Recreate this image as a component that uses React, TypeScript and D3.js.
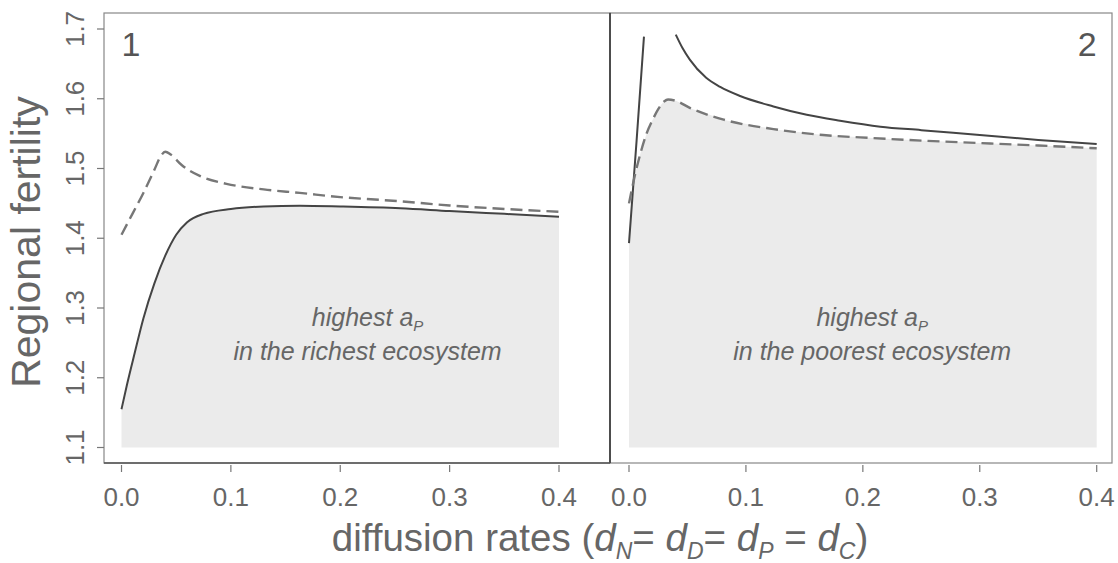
import React from 'react';
import * as d3 from 'd3';

// ---- data ----
const xTicks = [0, 0.1, 0.2, 0.3, 0.4];
const yTicks = [1.1, 1.2, 1.3, 1.4, 1.5, 1.6, 1.7];
const fillBase = 1.1;

// panel 1 : highest a_P in the richest ecosystem
const p1Solid: [number, number][] = [
  [0, 1.155], [0.005, 1.19], [0.012, 1.235], [0.02, 1.285], [0.03, 1.335], [0.04, 1.375],
  [0.05, 1.405], [0.06, 1.423], [0.075, 1.435], [0.1, 1.442], [0.13, 1.4455],
  [0.163, 1.4465], [0.2, 1.4455], [0.255, 1.443], [0.3, 1.439], [0.35, 1.435], [0.4, 1.431],
];
const p1Dashed: [number, number][] = [
  [0, 1.405], [0.01, 1.435], [0.02, 1.465], [0.03, 1.498], [0.036, 1.518], [0.04, 1.524],
  [0.045, 1.52], [0.055, 1.505], [0.072, 1.489], [0.096, 1.478], [0.13, 1.47], [0.163, 1.465],
  [0.2, 1.459], [0.255, 1.453], [0.3, 1.447], [0.35, 1.442], [0.4, 1.438],
];

// panel 2 : highest a_P in the poorest ecosystem
const p2SolidLow: [number, number][] = [
  [0, 1.393], [0.0065, 1.54], [0.0128, 1.689],
];
const p2SolidHigh: [number, number][] = [
  [0.04, 1.692], [0.046, 1.672], [0.052, 1.656], [0.066, 1.63], [0.078, 1.617], [0.095, 1.604],
  [0.1235, 1.589], [0.152, 1.577], [0.1805, 1.5685], [0.215, 1.56], [0.25, 1.555], [0.3, 1.548],
  [0.35, 1.541], [0.4, 1.535],
];
const p2Dashed: [number, number][] = [
  [0, 1.45], [0.005, 1.49], [0.01, 1.523], [0.015, 1.55], [0.02, 1.569], [0.025, 1.585],
  [0.03, 1.596], [0.0334, 1.599], [0.04, 1.597], [0.052, 1.587], [0.081, 1.57], [0.1235, 1.5565],
  [0.166, 1.548], [0.209, 1.5436], [0.25, 1.54], [0.3, 1.5365], [0.35, 1.533], [0.4, 1.529],
];

const panelLabels = ['1', '2'];
const noteWords = ['richest', 'poorest'];

// ---- layout ----
const W = 1118, H = 563;
const top = 13, bottom = 463;
const font = '"Liberation Sans", Arial, Helvetica, sans-serif';
const textCol = '#666';

const y = d3.scaleLinear().domain([1.1, 1.7]).range([447.5, 29]);
const x1 = d3.scaleLinear().domain([0, 0.4]).range([121.5, 559]);
const x2 = d3.scaleLinear().domain([0, 0.4]).range([629, 1096.7]);

function interp(series: [number, number][], xv: number): number {
  if (xv < series[0][0] - 1e-9 || xv > series[series.length - 1][0] + 1e-9) return Infinity;
  for (let i = 0; i < series.length - 1; i++) {
    const [xa, ya] = series[i], [xb, yb] = series[i + 1];
    if (xv >= xa && xv <= xb) return ya + (yb - ya) * (xv - xa) / (xb - xa);
  }
  return series[series.length - 1][1];
}

function minEnvelope(groups: [number, number][][]): [number, number][] {
  const xs = Array.from(new Set(groups.flat().map(d => d[0]))).sort((a, b) => a - b);
  return xs.map(xv => [xv, Math.min(...groups.map(g => interp(g, xv)))] as [number, number])
    .filter(d => isFinite(d[1]));
}

function Panel({ xs, left, right, solids, dashed, label, labelRight, note }: any) {
  const line = d3.line<[number, number]>().x(d => xs(d[0])).y(d => y(d[1])).curve(d3.curveMonotoneX);
  const lineLin = d3.line<[number, number]>().x(d => xs(d[0])).y(d => y(d[1]));
  const env = minEnvelope([...solids, dashed]);
  const area = d3.area<[number, number]>().x(d => xs(d[0])).y0(y(fillBase)).y1(d => y(d[1])).curve(d3.curveMonotoneX);
  const cx = note.cx;
  return (
    <g>
      <path d={area(env) || ''} fill="#ebebeb" />
      <text x={xs(cx)} y={326} textAnchor="middle" fontStyle="italic" fontSize={25} fill={textCol} fontFamily={font}>
        highest a<tspan fontSize={15} dy={5}>P</tspan>
      </text>
      <text x={xs(cx)} y={360} textAnchor="middle" fontStyle="italic" fontSize={25} fill={textCol} fontFamily={font}>
        {`in the ${note.word} ecosystem`}
      </text>
      {solids.map((s: [number, number][], i: number) => (
        <path key={i} d={(s.length <= 3 ? lineLin(s) : line(s)) || ''} fill="none" stroke="#444" strokeWidth={2} />
      ))}
      <path d={line(dashed) || ''} fill="none" stroke="#777" strokeWidth={2.4} strokeDasharray="12,6" />
      <text x={labelRight ? xs(0.4) : xs(0)} y={56} textAnchor={labelRight ? 'end' : 'start'} fontSize={34} fill="#555" fontFamily={font}>{label}</text>
      {xTicks.map(t => (
        <g key={t}>
          <line x1={xs(t)} x2={xs(t)} y1={465} y2={472} stroke="#777" strokeWidth={1.2} />
          <text x={xs(t)} y={506} textAnchor="middle" fontSize={26} fill={textCol} fontFamily={font}>{t.toFixed(1)}</text>
        </g>
      ))}
      <rect x={left} y={top} width={right - left} height={bottom - top} fill="none" stroke="#888" strokeWidth={1.2} />
    </g>
  );
}

export default function App() {
  return (
    <svg width={W} height={H} style={{ position: 'absolute', left: 0, top: 0, background: '#fff' }}>
      <rect x={0} y={0} width={W} height={H} fill="#fff" />
      <Panel xs={x1} left={104} right={610} solids={[p1Solid]} dashed={p1Dashed} label={panelLabels[0]} labelRight={false} note={{ cx: 0.225, word: noteWords[0] }} />
      <Panel xs={x2} left={610} right={1112} solids={[p2SolidLow, p2SolidHigh]} dashed={p2Dashed} label={panelLabels[1]} labelRight={true} note={{ cx: 0.208, word: noteWords[1] }} />
      <line x1={610} x2={610} y1={top} y2={bottom} stroke="#333" strokeWidth={1.5} />
      <line x1={104} x2={610} y1={bottom} y2={bottom} stroke="#555" strokeWidth={1.3} />
      {yTicks.map(t => (
        <g key={t}>
          <line x1={97} x2={104} y1={y(t)} y2={y(t)} stroke="#777" strokeWidth={1.2} />
          <text transform={`translate(84,${y(t)}) rotate(-90)`} textAnchor="middle" fontSize={26} fill={textCol} fontFamily={font}>{t.toFixed(1)}</text>
        </g>
      ))}
      <text transform={`translate(40,242) rotate(-90)`} textAnchor="middle" fontSize={41} fill={textCol} fontFamily={font}>Regional fertility</text>
      <text x={600} y={551} textAnchor="middle" fontSize={38.5} fill={textCol} fontFamily={font}>
        diffusion rates (<tspan fontStyle="italic">d</tspan><tspan fontStyle="italic" fontSize={23} dy={8}>N</tspan><tspan dy={-8}>= </tspan>
        <tspan fontStyle="italic">d</tspan><tspan fontStyle="italic" fontSize={23} dy={8}>D</tspan><tspan dy={-8}>= </tspan>
        <tspan fontStyle="italic">d</tspan><tspan fontStyle="italic" fontSize={23} dy={8}>P</tspan><tspan dy={-8}> = </tspan>
        <tspan fontStyle="italic">d</tspan><tspan fontStyle="italic" fontSize={23} dy={8}>C</tspan><tspan dy={-8}>)</tspan>
      </text>
    </svg>
  );
}
